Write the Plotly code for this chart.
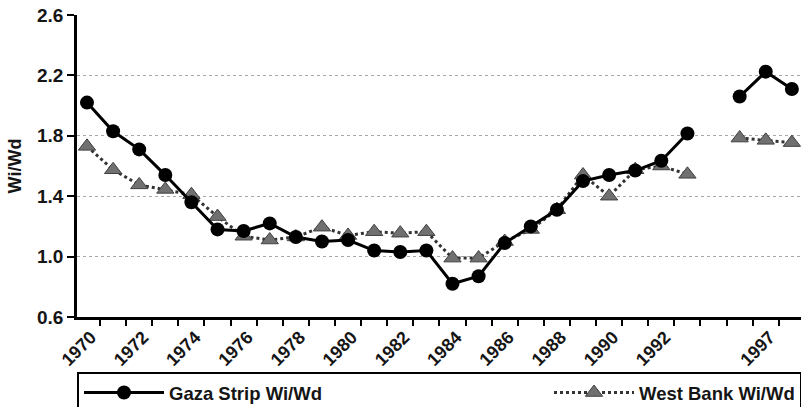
import plotly.graph_objects as go

years = ["1970", "1971", "1972", "1973", "1974", "1975", "1976", "1977", "1978", "1979",
         "1980", "1981", "1982", "1983", "1984", "1985", "1986", "1987", "1988", "1989",
         "1990", "1991", "1992", "1993", "1994-95", "1996", "1997", "1998"]
tick_labels = ["1970", "", "1972", "", "1974", "", "1976", "", "1978", "",
               "1980", "", "1982", "", "1984", "", "1986", "", "1988", "",
               "1990", "", "1992", "", "", "", "1997", ""]
gaza = [2.02, 1.83, 1.71, 1.54, 1.36, 1.18, 1.17, 1.22, 1.13, 1.10,
        1.11, 1.04, 1.03, 1.04, 0.82, 0.87, 1.09, 1.20, 1.31, 1.50,
        1.54, 1.57, 1.635, 1.815, None, 2.06, 2.225, 2.11]
west_bank = [1.73, 1.575, 1.475, 1.445, 1.41, 1.265, 1.135, 1.11, 1.13, 1.195,
             1.14, 1.165, 1.155, 1.165, 0.99, 0.99, 1.10, 1.18, 1.31, 1.54,
             1.40, 1.575, 1.60, 1.545, None, 1.785, 1.77, 1.755]

FONT = "Liberation Sans, Arial, sans-serif"
TXT = "#151515"

fig = go.Figure()
fig.add_trace(go.Scatter(
    x=years, y=west_bank, name="<b>West Bank Wi/Wd</b>", mode="lines+markers",
    line=dict(color="#333333", width=3, dash="dot"),
    marker=dict(symbol="triangle-up", size=15, color="#707070",
                line=dict(color="#404040", width=1)),
    connectgaps=False, legendrank=2,
))
fig.add_trace(go.Scatter(
    x=years, y=gaza, name="<b>Gaza Strip Wi/Wd</b>", mode="lines+markers",
    line=dict(color="#000000", width=3),
    marker=dict(symbol="circle", size=14, color="#000000"),
    connectgaps=False, legendrank=1, legendwidth=375,
))

fig.update_layout(
    width=801, height=407,
    margin=dict(l=77, r=0, t=15, b=90, autoexpand=False),
    paper_bgcolor="white", plot_bgcolor="white",
    font=dict(family=FONT, size=19, color=TXT),
    showlegend=True,
    legend=dict(orientation="h", xref="container", yref="container",
                x=77 / 801, xanchor="left", y=(407 - 372) / 407, yanchor="top",
                bordercolor="#000000", borderwidth=2, bgcolor="white",
                itemwidth=80, font=dict(size=18.5, family=FONT, color=TXT)),
)
fig.update_xaxes(
    type="category", categoryorder="array", categoryarray=years,
    tickmode="array", tickvals=years, ticktext=["<b>%s</b>" % t if t else "" for t in tick_labels],
    tickson="boundaries", ticks="outside", ticklen=6, tickwidth=2, tickcolor="#000",
    tickangle=-45, showgrid=False, showline=True, linecolor="#000", linewidth=2.5,
    range=[-0.383, 27.35], automargin=False, ticklabelshift=4,
    tickfont=dict(size=18, family=FONT, color=TXT),
)
fig.update_yaxes(
    range=[0.6, 2.6], tickmode="array",
    tickvals=[0.6, 1.0, 1.4, 1.8, 2.2, 2.6],
    ticktext=["<b>0.6</b>", "<b>1.0</b>", "<b>1.4</b>", "<b>1.8</b>", "<b>2.2</b>", "<b>2.6</b>"],
    ticks="outside", ticklen=7, tickwidth=2, tickcolor="#000",
    showline=True, linecolor="#000", linewidth=2.5,
    showgrid=True, gridcolor="#a8a8a8", gridwidth=1, griddash="dot",
    zeroline=False, automargin=False,
    title=dict(text="<b>Wi/Wd</b>", standoff=11, font=dict(size=18, family=FONT, color=TXT)),
    tickfont=dict(size=19, family=FONT, color=TXT),
)

fig.write_html("out.html", config={"displayModeBar": False},
               post_script="document.body.style.margin='0';document.body.style.overflow='hidden';")
